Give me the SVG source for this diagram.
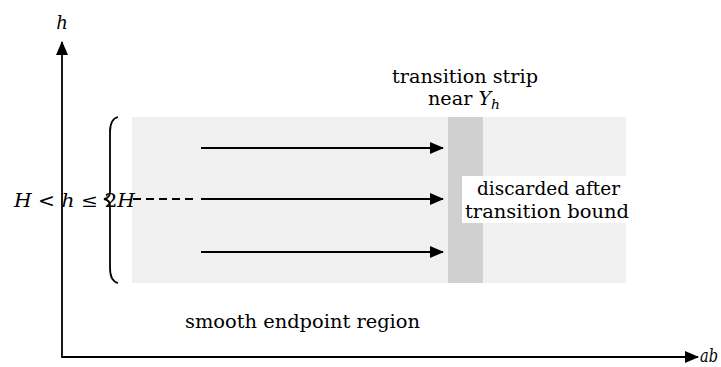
<svg xmlns="http://www.w3.org/2000/svg" width="721" height="367" viewBox="0 0 721 367">
<style>
text{font-family:'DejaVu Serif','Liberation Serif',serif;font-size:18px;fill:#000}
.m{font-style:italic}
.ln{stroke:#000;stroke-width:1.8;fill:none}
</style>
<defs>
<marker id="ah" markerWidth="14" markerHeight="12" refX="13" refY="6" orient="auto" markerUnits="userSpaceOnUse">
<path d="M0,0 L14,6 L0,12 Z" fill="#000"/>
</marker>
</defs>
<rect width="721" height="367" fill="#fff"/>
<g id="region">
<rect x="132" y="117" width="494" height="166" fill="#f0f0f0"/>
</g>
<g id="strip">
<rect x="448" y="117" width="35" height="166" fill="#d0d0d0"/>
</g>
<g id="connectors">
<line class="ln" x1="62" y1="358" x2="62" y2="42" marker-end="url(#ah)"/>
<line class="ln" x1="62" y1="357" x2="698" y2="357" marker-end="url(#ah)"/>
<line class="ln" x1="201" y1="148" x2="443" y2="148" marker-end="url(#ah)"/>
<line class="ln" x1="201" y1="199" x2="443" y2="199" marker-end="url(#ah)"/>
<line class="ln" x1="201" y1="252" x2="443" y2="252" marker-end="url(#ah)"/>
<line class="ln" x1="133" y1="199" x2="196" y2="199" stroke-dasharray="8,5"/>
<path class="ln" d="M118,117 Q110,119 110,132 L110,192 Q110,198 104,199 Q110,200 110,206 L110,268 Q110,281 118,283"/>
</g>
<g id="labels">
<text class="m" x="62" y="29" text-anchor="middle">h</text>
<text class="m" x="700" y="362" textLength="18" lengthAdjust="spacingAndGlyphs">ab</text>
<text x="14" y="207" textLength="121" lengthAdjust="spacingAndGlyphs"><tspan class="m">H</tspan> &lt; <tspan class="m">h</tspan> ≤ 2<tspan class="m">H</tspan></text>
<text x="392" y="83" textLength="146" lengthAdjust="spacingAndGlyphs">transition strip</text>
<text x="428" y="105" textLength="72" lengthAdjust="spacingAndGlyphs">near <tspan class="m">Y</tspan><tspan class="m" font-size="13" dy="4">h</tspan></text>
<text x="185" y="328" textLength="235" lengthAdjust="spacingAndGlyphs">smooth endpoint region</text>
</g>
<g id="discarded">
<rect x="462" y="176" width="164" height="47" fill="#fff"/>
<text x="477" y="195" textLength="143" lengthAdjust="spacingAndGlyphs">discarded after</text>
<text x="465" y="218" textLength="164" lengthAdjust="spacingAndGlyphs">transition bound</text>
</g>
</svg>
